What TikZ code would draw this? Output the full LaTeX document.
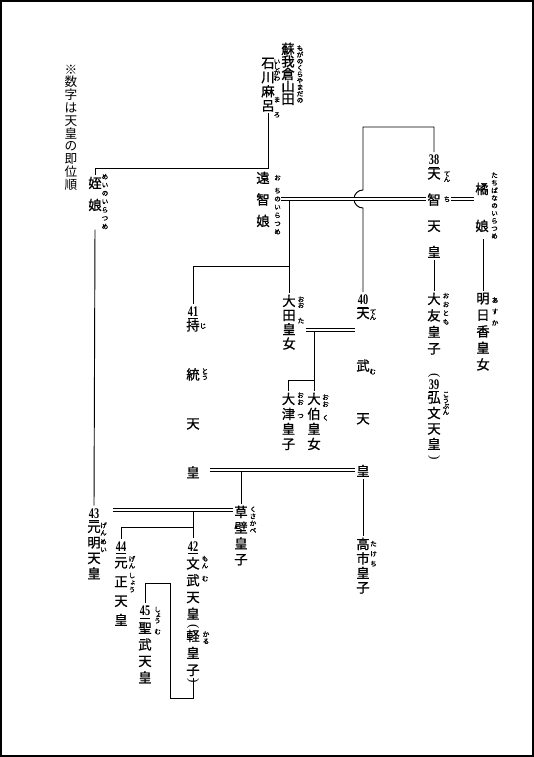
\documentclass[tikz,border=0pt]{standalone}
\usepackage{fontspec}
\setmainfont{Liberation Serif}
\newfontfamily\jpb[FakeBold=1.0]{Noto Sans CJK JP}
\newfontfamily\jpr[RawFeature=+vert,FakeBold=1.5]{Noto Sans CJK JP}
\newfontfamily\jpn{Noto Sans CJK JP}
\usepackage{graphicx}
\usepackage{tikz}
\newdimen\pxu \pxu=0.75pt
\ExplSyntaxOn
\NewDocumentCommand\tate{mm}{
  \vbox{\baselineskip=#1\pxu \lineskiplimit=-\maxdimen \lineskip=0pt
    \tl_map_inline:nn{#2}{\hbox_to_wd:nn{1em}{\hss##1\hss}}}}
\ExplSyntaxOff
\newcommand{\ban}[1]{\underline{\scalebox{0.7}[1]{#1}}}

\begin{document}
\begin{tikzpicture}[x=0.75pt,y=-0.75pt,line width=0.7pt,
  hito/.style={font=\jpb\fontsize{10}{10}\selectfont,inner sep=1pt,anchor=north},
  ruby/.style={font=\jpr\fontsize{5}{5}\selectfont,inner sep=0pt,anchor=north},
  bango/.style={font=\bfseries\fontsize{11}{11}\selectfont,inner xsep=0pt,inner ysep=2pt},
  kakko/.style={font=\fontsize{10}{10}\selectfont,inner sep=0pt,rotate=-90},
  fuufu/.style={double,double distance=1.6pt,line width=0.6pt}]
  \useasboundingbox (0,0) rectangle (534,757);
  \draw[line width=1.5pt] (1,1) rectangle (533,756);

  \node[anchor=north,inner sep=1pt,font=\jpn\fontsize{9.5}{9.5}\selectfont] (chu) at (71,63) {\tate{12.8}{※数字は天皇の即位順}};

  \node[hito] (soga)      at (288,41)    {\tate{12.5}{蘇我倉山田}};
  \node[hito] (ishikawa)  at (268,56)    {\tate{14.2}{石川麻呂}};
  \node[hito] (mei)       at (95,175)    {\tate{22}{姪娘}};
  \node[hito] (ochi)      at (263,170)   {\tate{21.5}{遠智娘}};
  \node[hito] (tenji)     at (434,166.5) {\tate{26.2}{天智天皇}};
  \node[hito] (tachibana) at (482,181)   {\tate{37}{橘娘}};
  \node[hito] (otomo)     at (434,291)   {\tate{16.5}{大友皇子}};
  \node[hito] (kobun)     at (434,390)   {\tate{15.5}{弘文天皇}};
  \node[hito] (asuka)     at (483,291)   {\tate{16.5}{明日香皇女}};
  \node[hito] (tenmu)     at (363,306)   {\tate{52.7}{天武天皇}};
  \node[hito] (jito)      at (193,317.5) {\tate{49}{持統天皇}};
  \node[hito] (ota)       at (289,293)   {\tate{14.2}{大田皇女}};
  \node[hito] (otsu)      at (288.5,391) {\tate{15}{大津皇子}};
  \node[hito] (oku)       at (314,391)   {\tate{15}{大伯皇女}};
  \node[hito] (takechi)   at (363,536)   {\tate{14.5}{高市皇子}};
  \node[hito] (kusakabe)  at (241,504)   {\tate{15.8}{草壁皇子}};
  \node[hito] (genmei)    at (94,520)    {\tate{15.5}{元明天皇}};
  \node[hito] (gensho)    at (121,555.5) {\tate{19.2}{元正天皇}};
  \node[hito] (monmu)     at (193,555.5) {\tate{16.8}{文武天皇}};
  \node[hito] (karu)      at (193,628)   {\tate{17}{軽皇子}};
  \node[hito] (shomu)     at (145,620.5) {\tate{16.5}{聖武天皇}};

  \node[kakko] (kobunA) at (434,376)   {(};
  \node[kakko] (kobunB) at (434,458)   {)};
  \node[kakko] (karuA)  at (193,627)   {(};
  \node[kakko] (karuB)  at (193,681)   {)};

  \node[bango] (n38) at (434,161.5) {\ban{38}};
  \node[bango] (n39) at (434,386)   {\ban{39}};
  \node[bango] (n40) at (363,301.5) {\ban{40}};
  \node[bango] (n41) at (193,313)   {\ban{41}};
  \node[bango] (n42) at (193,547.5) {\ban{42}};
  \node[bango] (n43) at (94,515)    {\ban{43}};
  \node[bango] (n44) at (121,548)   {\ban{44}};
  \node[bango] (n45) at (145,612.5) {\ban{45}};

  \node[ruby] (rSoga)    at (300,45)     {\tate{6.5}{もがのくらやまだの}};
  \node[ruby] (rIshi)    at (277,59)     {\tate{5.5}{いしかわ}};
  \node[ruby] (rMaro)    at (277,96.5)   {\tate{15}{まろ}};
  \node[ruby] (rMei)     at (105,173.5)  {\tate{8.3}{めいのいらつめ}};
  \node[ruby] (rOchiA)   at (277.5,174.5){\tate{0}{お}};
  \node[ruby] (rOchiB)   at (277.5,187.5){\tate{8.2}{ちのいらつめ}};
  \node[ruby] (rTachi)   at (494.5,172)  {\tate{7.6}{たちばなのいらつめ}};
  \node[ruby] (rTenjiA)  at (447,171)    {\tate{5.5}{てん}};
  \node[ruby] (rTenjiB)  at (447,196)    {\tate{0}{ち}};
  \node[ruby] (rOtomo)   at (446,292.5)  {\tate{8.7}{おおとも}};
  \node[ruby] (rKobun)   at (446,391.5)  {\tate{6}{こうぶん}};
  \node[ruby] (rAsuka)   at (495,297)    {\tate{11.3}{あすか}};
  \node[ruby] (rTenmuA)  at (373,309)    {\tate{5.5}{てん}};
  \node[ruby] (rTenmuB)  at (372.5,368.5){\tate{0}{む}};
  \node[ruby] (rJitoA)   at (203,323)    {\tate{0}{じ}};
  \node[ruby] (rJitoB)   at (205,368)    {\tate{6}{とう}};
  \node[ruby] (rOtaA)    at (301,296)    {\tate{6}{おお}};
  \node[ruby] (rOtaB)    at (301,317.5)  {\tate{0}{た}};
  \node[ruby] (rOtsuA)   at (300.5,392)  {\tate{7}{おお}};
  \node[ruby] (rOtsuB)   at (300.5,413.5){\tate{0}{つ}};
  \node[ruby] (rOkuA)    at (325.5,394)  {\tate{7}{おお}};
  \node[ruby] (rOkuB)    at (325.5,414.5){\tate{0}{く}};
  \node[ruby] (rTakechi) at (373.5,540.5){\tate{10}{たけち}};
  \node[ruby] (rKusa)    at (253,506)    {\tate{7}{くさかべ}};
  \node[ruby] (rGenmeiA) at (103.5,522)  {\tate{7.5}{げん}};
  \node[ruby] (rGenmeiB) at (103.5,538.5){\tate{8}{めい}};
  \node[ruby] (rGenshoA) at (132,555.5)  {\tate{7}{げん}};
  \node[ruby] (rGenshoB) at (132,572.5)  {\tate{7}{しょう}};
  \node[ruby] (rMonmuA)  at (205,555.5)  {\tate{7}{もん}};
  \node[ruby] (rMonmuB)  at (205,575.5)  {\tate{0}{む}};
  \node[ruby] (rKaru)    at (206,631)    {\tate{7}{かる}};
  \node[ruby] (rShomuA)  at (157.5,606.5){\tate{5.5}{しょう}};
  \node[ruby] (rShomuB)  at (157.5,628.5){\tate{0}{む}};

  \coordinate (j1) at (268,168);
  \coordinate (tb) at (363,127);
  \coordinate (k1) at (289,266);
  \coordinate (m2) at (306,330);
  \coordinate (k2) at (314,380);
  \coordinate (m3) at (210,470);
  \coordinate (m4) at (113,510);
  \coordinate (k3) at (193,527);
  \coordinate (k4) at (170,698);
  \coordinate (k5) at (170,583);

  \draw (ishikawa.south) -- (j1) -| (mei.north);
  \draw (tenji.north |- n38.north) |- (tb) -- (363,190) arc[start angle=270,end angle=90,radius=9] -- (n40.north);
  \draw (ota.north |- rTenjiB) -- (ota.north);
  \draw (k1) -| (n41.north);
  \draw (tenji.south) -- (otomo.north);
  \draw (asuka.north |- rTachi.south) -- (asuka.north);
  \draw (oku.north |- m2) -- (oku.north);
  \draw (k2) -| (otsu.north);
  \draw (kusakabe.north |- m3) -- (kusakabe.north);
  \draw (tenmu.south) -- (takechi.north);
  \draw (mei.south |- rMei.south) -- (n43.north);
  \draw (n42.north |- m4) -- (n42.north);
  \draw (k3) -| (n44.north);
  \draw (karuB.west) |- (k4) -- (k5) -| (n45.north);

  \draw[fuufu] (rOchiB.east |- rTenjiB) -- (tenji.west |- rTenjiB);
  \draw[fuufu] (rTenjiB.east) -- (tachibana.west |- rTenjiB);
  \draw[fuufu] (m2) -- (tenmu.west |- m2);
  \draw[fuufu] (m3) -- (tenmu.west |- m3);
  \draw[fuufu] (m4) -- (kusakabe.west |- m4);
\end{tikzpicture}
\end{document}
